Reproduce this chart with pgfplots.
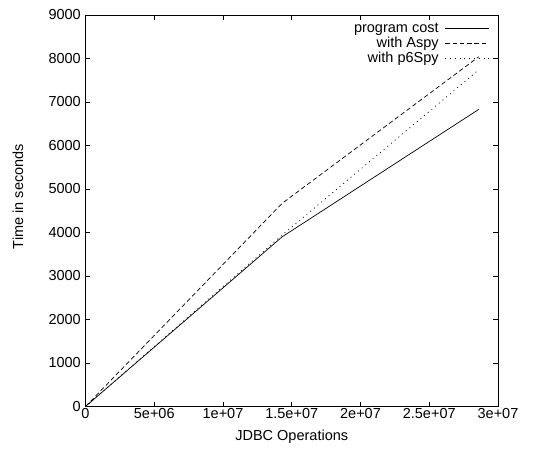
\documentclass[border=0pt]{standalone}
\usepackage{fontspec}
\setmainfont{Liberation Sans}
\usepackage{pgfplots}
\pgfplotsset{compat=1.18}

\begin{document}
\begin{tikzpicture}[font=\fontsize{14.5bp}{17bp}\selectfont]
\useasboundingbox (-85.5bp,-44.5bp) rectangle (447.5bp,406.5bp);
\begin{axis}[
    at={(0,0)}, anchor=south west,
    scale only axis, width=412.5bp, height=391.5bp,
    xmin=0, xmax=3e7, ymin=0, ymax=9000,
    xtick={0,5e6,1e7,1.5e7,2e7,2.5e7,3e7},
    xticklabels={0,5e+06,1e+07,1.5e+07,2e+07,2.5e+07,3e+07},
    ytick={0,1000,2000,3000,4000,5000,6000,7000,8000,9000},
    yticklabels={0,1000,2000,3000,4000,5000,6000,7000,8000,9000},
    scaled x ticks=false,
    tick align=inside, tick pos=both, major tick length=5bp,
    axis line style={line width=0.8bp},
    every tick/.style={black, line width=0.8bp},
    xticklabel style={inner sep=0pt, anchor=north, yshift=-2bp},
    yticklabel style={inner sep=0pt, anchor=east, xshift=-4.5bp},
    every axis x label/.style={at={(axis description cs:0.5,0)}, anchor=center, yshift=-30.2bp},
    every axis y label/.style={at={(axis description cs:0,0.536)}, xshift=-67.5bp, anchor=center, rotate=90},
    xlabel={JDBC Operations},
    ylabel={Time in seconds},
    legend plot pos=right,
    legend cell align=right,
    legend image code/.code={\draw[#1] (0bp,0bp) -- (43.5bp,0bp);},
    legend style={draw=none, fill=none, at={(axis description cs:1,1)}, anchor=north east,
        xshift=-8.7bp, yshift=-5.8bp, inner sep=0pt, column sep=5.5bp, row sep=0pt,
        nodes={text height=10.5bp, text depth=3bp, inner sep=0.75bp}},
]
\addplot[black, line width=0.7bp] coordinates {(0,0) (1.43e7,3900) (2.86e7,6830)};
\addlegendentry{program cost}
\addplot[black, line width=0.7bp, dash pattern=on 4.5bp off 2.8bp] coordinates {(0,0) (1.43e7,4670) (2.86e7,8040)};
\addlegendentry{with Aspy}
\addplot[black, line width=0.7bp, dash pattern=on 1bp off 3.8bp] coordinates {(0,0) (1.43e7,3940) (2.86e7,7740)};
\addlegendentry{with p6Spy}
\end{axis}
\end{tikzpicture}
\end{document}
